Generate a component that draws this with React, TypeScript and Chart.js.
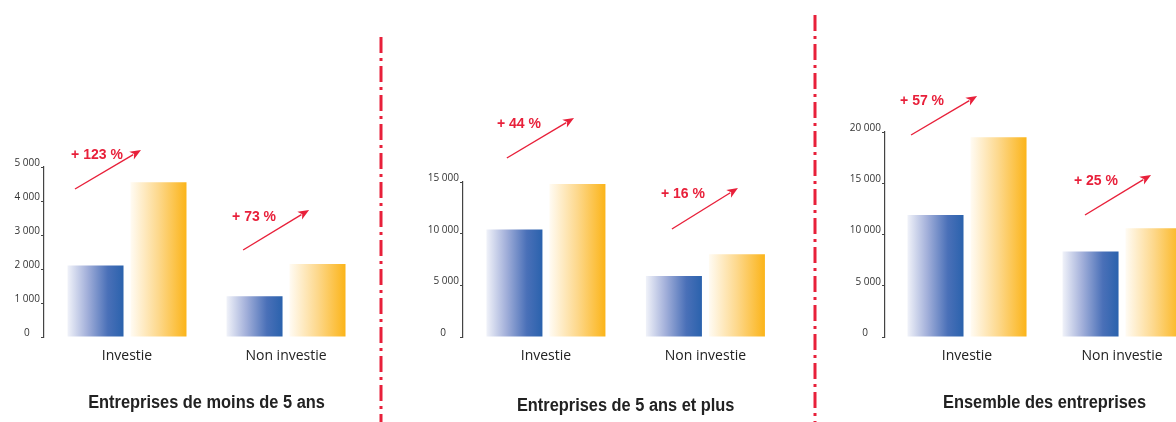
import React, { useEffect, useRef } from 'react';
import { Chart, registerables } from 'chart.js';

Chart.register(...registerables);

// ---------- data ----------
const categories = ['Investie', 'Non investie'];
const titles = ['Entreprises de moins de 5 ans', 'Entreprises de 5 ans et plus', 'Ensemble des entreprises'];
const beforeSmall = [2100, 1200];
const afterSmall = [4550, 2150];
const beforeLarge = [10400, 5900];
const afterLarge = [14800, 8000];
const beforeAll = [11900, 8350];
const afterAll = [19500, 10600];
const growthSmall = ['+ 123 %', '+ 73 %'];
const growthLarge = ['+ 44 %', '+ 16 %'];
const growthAll = ['+ 57 %', '+ 25 %'];
const yMaxes = [5000, 15000, 20000];
const ySteps = [1000, 5000, 5000];

// ---------- layout / style ----------
const W = 1176;
const H = 422;
const RED = '#e8203a';
const FONT = '"Open Sans", "Noto Sans", sans-serif';
const LABEL_FONT = '"Liberation Sans", Arial, sans-serif';
const TITLE_FONT = '"Liberation Sans", Arial, sans-serif';
const TITLE_SCALE_X = 0.91;

type Arrow = { from: [number, number]; to: [number, number]; label: [number, number] };

const panels = [
  {
    before: beforeSmall, after: afterSmall, growth: growthSmall, title: titles[0],
    yMax: yMaxes[0], step: ySteps[0], zeroPad: 4,
    axisX: 44, topPx: 167, rightPx: 370, xMin: -0.522, xMax: 1.528,
    catPct: 0.792, barPct: 0.889, titleY: 403,
    arrows: [
      { from: [-0.327, 4353], to: [0.088, 5500], label: [-0.189, 5353] },
      { from: [0.73, 2559], to: [1.145, 3735], label: [0.799, 3529] },
    ] as Arrow[],
  },
  {
    before: beforeLarge, after: afterLarge, growth: growthLarge, title: titles[1],
    yMax: yMaxes[1], step: ySteps[1], zeroPad: 5,
    axisX: 463, topPx: 182, rightPx: 800, xMin: -0.52, xMax: 1.593,
    catPct: 0.79, barPct: 0.889, titleY: 406,
    arrows: [
      { from: [-0.245, 17323], to: [0.176, 21194], label: [-0.169, 20613] },
      { from: [0.79, 10452], to: [1.204, 14419], label: [0.859, 13839] },
    ] as Arrow[],
  },
  {
    before: beforeAll, after: afterAll, growth: growthAll, title: titles[2],
    yMax: yMaxes[2], step: ySteps[2], zeroPad: 5,
    axisX: 885, topPx: 132, rightPx: 1176, xMin: -0.529, xMax: 1.348,
    catPct: 0.813, barPct: 0.889, titleY: 403,
    arrows: [
      { from: [-0.361, 19707], to: [0.065, 23512], label: [-0.29, 23024] },
      { from: [0.761, 11902], to: [1.187, 15805], label: [0.832, 15220] },
    ] as Arrow[],
  },
];

const separators = [
  { x: 381, top: 37 },
  { x: 815, top: 15 },
];

const BLUE_STOPS: [number, string][] = [[0, '#f0f2f9'], [0.35, '#a3b0da'], [0.72, '#4a70b8'], [1, '#2a62ad']];
const YELLOW_STOPS: [number, string][] = [[0, '#fffbf3'], [0.5, '#fdd88c'], [1, '#fbb419']];

const X_AXIS_H = 24;
const Y_AXIS_W = 40;
const BASE_PX = 337;

function fmt(v: number) {
  return String(v).replace(/\B(?=(\d{3})+(?!\d))/g, ' ');
}

function Panel({ idx }: { idx: number }) {
  const ref = useRef<HTMLCanvasElement | null>(null);
  useEffect(() => {
    const p = panels[idx];
    const canvas = ref.current!;
    const gradientFor = (stops: [number, string][], solid: string) => (ctx: any) => {
      const chart = ctx.chart;
      const xs = chart.scales?.x;
      if (!xs || ctx.dataIndex === undefined || !chart.chartArea) return solid;
      const w = xs.getPixelForValue(1) - xs.getPixelForValue(0);
      const groupW = w * p.catPct;
      const slot = groupW / 2;
      const center = xs.getPixelForValue(ctx.dataIndex) - groupW / 2 + slot * (ctx.datasetIndex + 0.5);
      const half = (slot * p.barPct) / 2;
      const g = chart.ctx.createLinearGradient(center - half, 0, center + half, 0);
      stops.forEach(([o, c]) => g.addColorStop(o, c));
      return g;
    };

    const annotations = {
      id: 'annotations' + idx,
      afterDatasetsDraw(chart: any) {
        const { ctx, scales } = chart;
        const xs = scales.x;
        const ys = scales.y;
        ctx.save();
        p.arrows.forEach((a, i) => {
          const x0 = xs.getPixelForValue(a.from[0]);
          const y0 = ys.getPixelForValue(a.from[1]);
          const x1 = xs.getPixelForValue(a.to[0]);
          const y1 = ys.getPixelForValue(a.to[1]);
          const ang = Math.atan2(y1 - y0, x1 - x0);
          const headL = 11;
          const headW = 4.5;
          const bx = x1 - headL * Math.cos(ang);
          const by = y1 - headL * Math.sin(ang);
          ctx.strokeStyle = RED;
          ctx.lineWidth = 1.4;
          ctx.beginPath();
          ctx.moveTo(x0, y0);
          ctx.lineTo(bx + 2 * Math.cos(ang), by + 2 * Math.sin(ang));
          ctx.stroke();
          ctx.fillStyle = RED;
          ctx.beginPath();
          ctx.moveTo(x1, y1);
          ctx.lineTo(bx - headW * Math.sin(ang), by + headW * Math.cos(ang));
          ctx.lineTo(bx + 3 * Math.cos(ang), by + 3 * Math.sin(ang));
          ctx.lineTo(bx + headW * Math.sin(ang), by - headW * Math.cos(ang));
          ctx.closePath();
          ctx.fill();
          ctx.font = `bold 14px ${LABEL_FONT}`;
          ctx.textAlign = 'center';
          ctx.textBaseline = 'middle';
          ctx.fillText(p.growth[i], xs.getPixelForValue(a.label[0]), ys.getPixelForValue(a.label[1]));
        });
        // panel title (condensed bold)
        ctx.save();
        ctx.fillStyle = '#222';
        ctx.font = `bold 18px ${TITLE_FONT}`;
        ctx.textAlign = 'center';
        ctx.textBaseline = 'middle';
        ctx.translate(xs.getPixelForValue(0.5), p.titleY);
        ctx.scale(TITLE_SCALE_X, 1);
        ctx.fillText(p.title, 0, 0);
        ctx.restore();
        if (idx === 0) {
          ctx.strokeStyle = RED;
          ctx.lineWidth = 3;
          ctx.setLineDash([16, 5, 3, 5]);
          separators.forEach((s) => {
            ctx.beginPath();
            ctx.moveTo(s.x, s.top);
            ctx.lineTo(s.x, H);
            ctx.stroke();
          });
        }
        ctx.restore();
      },
    };

    const chart = new Chart(canvas, {
      type: 'bar',
      data: {
        datasets: [
          {
            label: 'avant',
            data: p.before.map((v, i) => ({ x: i, y: v })),
            backgroundColor: gradientFor(BLUE_STOPS, '#2a62ad'),
            borderWidth: 0,
            categoryPercentage: p.catPct,
            barPercentage: p.barPct,
          },
          {
            label: 'après',
            data: p.after.map((v, i) => ({ x: i, y: v })),
            backgroundColor: gradientFor(YELLOW_STOPS, '#fbb419'),
            borderWidth: 0,
            categoryPercentage: p.catPct,
            barPercentage: p.barPct,
          },
        ],
      } as any,
      options: {
        responsive: false,
        animation: false,
        events: [],
        layout: {
          padding: {
            left: p.axisX - Y_AXIS_W,
            right: W - p.rightPx,
            top: p.topPx,
            bottom: H - BASE_PX - X_AXIS_H,
          },
        },
        plugins: { legend: { display: false }, tooltip: { enabled: false }, title: { display: false } },
        scales: {
          x: {
            type: 'linear',
            min: p.xMin,
            max: p.xMax,
            offset: false,
            bounds: 'data',
            afterBuildTicks: (s: any) => {
              s.ticks = categories.map((_, i) => ({ value: i }));
            },
            afterFit: (s: any) => {
              s.height = X_AXIS_H;
              s.paddingLeft = 0;
              s.paddingRight = 0;
            },
            grid: { display: false },
            border: { display: false },
            ticks: {
              autoSkip: false,
              maxRotation: 0,
              padding: 3,
              color: '#222',
              font: { family: FONT, size: 14 },
              callback: (_v: any, i: number) => categories[i],
            },
          },
          y: {
            min: 0,
            max: p.yMax,
            afterFit: (s: any) => {
              s.width = Y_AXIS_W;
              s.paddingTop = 0;
              s.paddingBottom = 0;
            },
            grid: { display: true, drawOnChartArea: false, drawTicks: true, tickLength: 3, color: '#444', lineWidth: 1 },
            border: { display: true, color: '#444', width: 1.2 },
            ticks: {
              stepSize: p.step,
              padding: 1,
              labelOffset: -4,
              color: '#333',
              font: { family: FONT, size: 10 },
              callback: (v: any) => (v === 0 ? '0' + ' '.repeat(p.zeroPad) : fmt(v)),
            },
          },
        },
      } as any,
      plugins: [annotations],
    });
    return () => chart.destroy();
  }, [idx]);
  return (
    <canvas
      ref={ref}
      width={W}
      height={H}
      style={{ position: 'absolute', left: 0, top: 0, width: W, height: H }}
    />
  );
}

export default function App() {
  return (
    <div
      style={{
        position: 'fixed',
        left: 0,
        top: 0,
        width: W,
        height: H,
        overflow: 'hidden',
        background: '#fff',
      }}
    >
      {panels.map((_, i) => (
        <Panel key={i} idx={i} />
      ))}
    </div>
  );
}
